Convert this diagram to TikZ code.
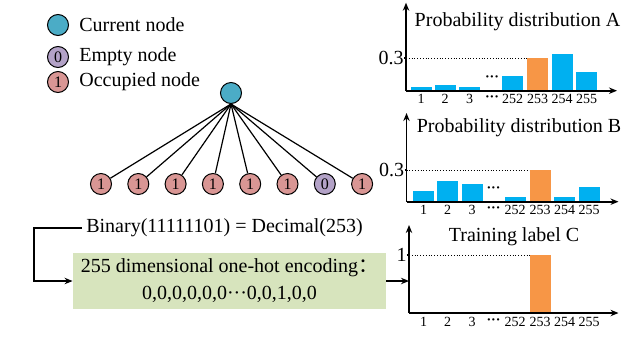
\documentclass[tikz,border=0pt]{standalone}
\usepackage{fontspec}
\setmainfont{Liberation Serif}
\newfontfamily\cjk{Noto Sans CJK SC}
\usetikzlibrary{positioning, arrows.meta}
\definecolor{curcol}{HTML}{4BACC6}
\definecolor{empcol}{HTML}{B3A2C7}
\definecolor{occcol}{HTML}{D99694}
\definecolor{enccol}{HTML}{D7E4BD}
\definecolor{barblue}{HTML}{00B0F0}
\definecolor{barorange}{HTML}{F79646}
\newcommand{\tdots}{\textbf{···}}

\begin{document}
\begin{tikzpicture}[x=0.5pt, y=-0.5pt,
  font=\fontsize{10}{13.5}\selectfont,
  tnode/.style={circle, draw, line width=0.5pt, minimum size=10.5pt,
                inner sep=0pt, font=\fontsize{8}{8}\selectfont},
  legtext/.style={right=4pt of #1, inner sep=1pt, anchor=west},
  edge/.style={line width=0.6pt},
  arr/.style={-{Stealth[length=4pt, width=3.2pt]}, line width=0.7pt},
  axis/.style={-{Stealth[length=4pt, width=3.2pt]}, line width=0.8pt},
  bluebar/.style={fill=barblue},
  hotbar/.style={fill=barorange},
  guide/.style={densely dotted, line width=0.4pt},
  tick/.style={font=\fontsize{7}{8}\selectfont, inner sep=0pt},
  vlabel/.style={anchor=east, inner sep=1pt},
  title/.style={inner sep=0pt}
]
\useasboundingbox (0,0) rectangle (640,359);

% legend
\node[tnode, fill=curcol] (lcur) at (58,25) {};
\node[tnode, fill=empcol] (lemp) at (58,57) {0};
\node[tnode, fill=occcol] (locc) at (58,82) {1};
\node[legtext=lcur] (tcur) {Current node};
\node[legtext=lemp] (temp) {Empty node};
\node[legtext=locc] (tocc) {Occupied node};

% tree
\node[tnode, fill=curcol] (root) at (231,93) {};
\foreach \i/\v in {1/1, 2/1, 3/1, 4/1, 5/1, 6/1, 7/0, 8/1} {
  \ifnum\v=1 \def\col{occcol}\else \def\col{empcol}\fi
  \node[tnode, fill=\col] (c\i) at ({101+37.3*(\i-1)},184) {\v};
  \draw[edge] (root.south) -- (c\i);
}

% encoding
\node[inner sep=2pt] (bin) at (224.5,228) {Binary(11111101) = Decimal(253)};
\node[fill=enccol, minimum width=156.5pt, minimum height=28pt, align=center,
      inner sep=0pt] (enc) at (229.5,281)
  {255 dimensional one-hot encoding{\cjk ：}\\0,0,0,0,0,0···0,0,1,0,0};
\coordinate (bend) at (34,228);
\coordinate (cin) at (409,281);
\draw[arr] (bin.west) -- (bend) |- (enc.west);
\draw[arr] (enc.east) -- (cin);

% distribution A
\node[title] (ta) at (517.5,22) {Probability distribution A};
\begin{scope}[shift={(421,90.7)}]
  \draw[guide] (-15,-32.7) -- (116.5,-32.7);
  \foreach \xb/\h in {0/3.7, 24/5.7, 48.5/3.7, 91.5/14.7, 141/36.7, 165.5/18.7}
    \fill[bluebar] (\xb-10.5,0) rectangle (\xb+10.5,-\h);
  \fill[hotbar] (106,0) rectangle (127,-32.7);
  \node[tick] at (71,-11.7) {\tdots};
  \draw[axis] (-15,0) -- (196,0);
  \draw[axis] (-15,0) -- (-15,-88);
  \draw[line width=0.6pt] (-17,-32.7) -- (-15,-32.7);
  \node[vlabel] at (-15,-32.7) {0.3};
  \foreach \xb/\t in {0/1, 24/2, 48.5/3, 71/\tdots, 91.5/252, 116.5/253, 141/254, 165.5/255}
    \node[tick] at (\xb,8.3) {\t};
\end{scope}

% distribution B
\node[title] (tb) at (519,128) {Probability distribution B};
\begin{scope}[shift={(423.5,201.7)}]
  \draw[guide] (-17,-31.7) -- (117,-31.7);
  \foreach \xb/\h in {0/10.7, 24/20.7, 48.5/17.7, 91.5/4.7, 141/4.7, 165.5/14.7}
    \fill[bluebar] (\xb-10.5,0) rectangle (\xb+10.5,-\h);
  \fill[hotbar] (106,0) rectangle (127,-31.7);
  \node[tick] at (70,-11.7) {\tdots};
  \draw[axis] (-17,0) -- (195,0);
  \draw[axis] (-17,0) -- (-17,-88.7);
  \draw[line width=0.6pt] (-19,-31.7) -- (-17,-31.7);
  \node[vlabel] at (-17,-31.7) {0.3};
  \foreach \xb/\t in {0/1, 24/2, 48.5/3, 70/\tdots, 91.5/252, 116.5/253, 141/254, 165.5/255}
    \node[tick] at (\xb,8.3) {\t};
\end{scope}

% training label C
\node[title] (tc) at (514,237) {Training label C};
\begin{scope}[shift={(423.5,313)}]
  \draw[guide] (-14.5,-58) -- (117,-58);
  \fill[hotbar] (106,0) rectangle (127,-58);
  \draw[axis] (-14.5,0) -- (195,0);
  \draw[axis] (-14.5,0) -- (-14.5,-88);
  \draw[line width=0.6pt] (-16.5,-58) -- (-14.5,-58);
  \node[vlabel] at (-14.5,-58) {1};
  \foreach \xb/\t in {0/1, 24/2, 48.5/3, 70/\tdots, 91.5/252, 116.5/253, 141/254, 165.5/255}
    \node[tick] at (\xb,9) {\t};
\end{scope}
\end{tikzpicture}
\end{document}
